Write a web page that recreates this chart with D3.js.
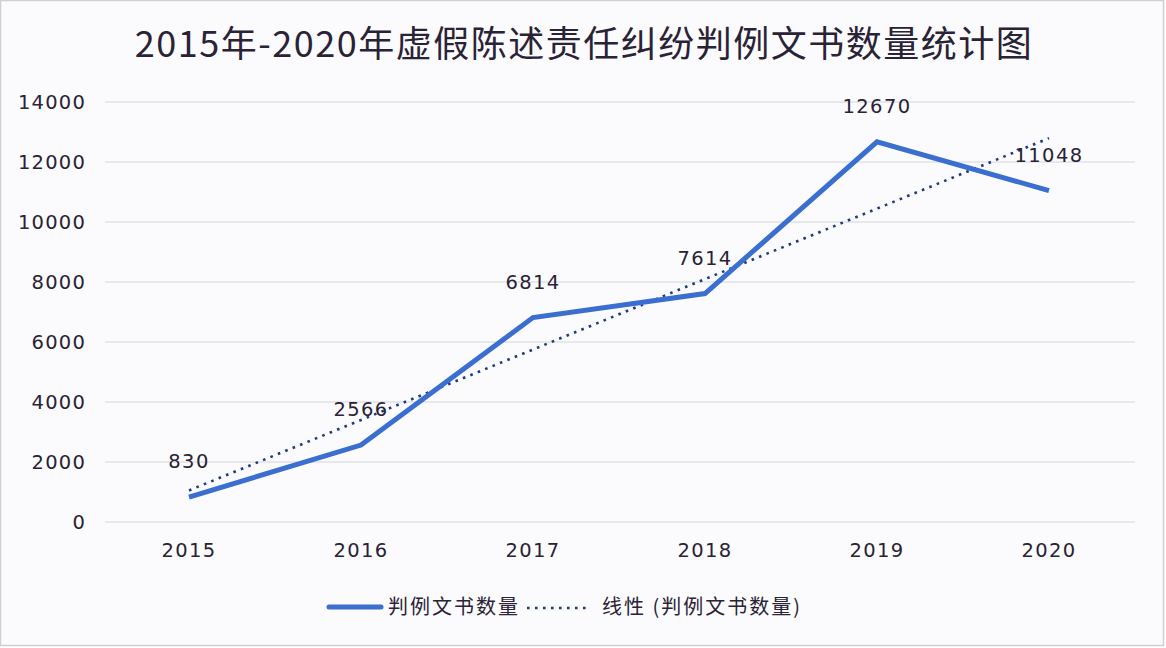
<!DOCTYPE html>
<html><head><meta charset="utf-8">
<script src="https://cdn.jsdelivr.net/npm/d3@7"></script>
<style>
html,body{margin:0;padding:0;background:#fff;}
svg{display:block;}
</style></head>
<body>
<svg id="chart" width="1166" height="648"></svg>
<script>
const years = ["2015","2016","2017","2018","2019","2020"];
const counts = [830, 2566, 6814, 7614, 12670, 11048];
const trendValues = [1052, 12795]; // linear trendline at first and last year
const yTicks = [0, 2000, 4000, 6000, 8000, 10000, 12000, 14000];
const titleText = "2015年-2020年虚假陈述责任纠纷判例文书数量统计图";
const seriesName = "判例文书数量";
const trendName = "线性 (判例文书数量)";

const svg = d3.select("#chart");
const W = 1166, H = 648;
const textColor = "#2a2235";
const lineColor = "#3a6fcf";
const trendColor = "#1e3a80";
const latin = "'DejaVu Sans', Verdana, sans-serif";
const cjk = "'Noto Sans CJK SC', 'DejaVu Sans', sans-serif";

svg.append("rect").attr("x",0.5).attr("y",0.5).attr("width",W-3).attr("height",H-3)
  .attr("fill","#fbfbfd").attr("stroke","#cfcfd6").attr("stroke-width",1.5);

const x = d3.scaleBand().domain(years).range([103,1135]);
const y = d3.scaleLinear().domain([0,14000]).range([522,102]);
const cx = d => x(d) + x.bandwidth()/2;

// title
svg.append("text").attr("x",584).attr("y",57).attr("text-anchor","middle")
  .attr("font-family",cjk).attr("font-size",36).attr("letter-spacing",1.5)
  .attr("fill",textColor).text(titleText);

// gridlines
svg.append("g").selectAll("line").data(yTicks).join("line")
  .attr("x1",105).attr("x2",1135).attr("y1",d=>y(d)).attr("y2",d=>y(d))
  .attr("stroke","#d3d5dc").attr("stroke-width",1.2);

// y axis labels
const yAxis = d3.axisLeft(y).tickValues(yTicks).tickSize(0).tickPadding(0).tickFormat(d3.format("d"));
const gy = svg.append("g").attr("transform","translate(86,0)").call(yAxis);
gy.select(".domain").remove();
gy.selectAll("text").attr("font-family",latin).attr("font-size",19.5).attr("letter-spacing",1.2)
  .attr("fill",textColor).attr("dy","0.35em");

// x axis labels
const xAxis = d3.axisBottom(x).tickSize(0).tickPadding(0);
const gx = svg.append("g").attr("transform","translate(0,550)").call(xAxis);
gx.select(".domain").remove();
gx.selectAll("text").attr("font-family",latin).attr("font-size",19.5).attr("letter-spacing",1.4)
  .attr("fill",textColor).attr("dy","0.35em");

// trendline
const trendPts = [[years[0], trendValues[0]], [years[years.length-1], trendValues[1]]];
svg.append("path").datum(trendPts)
  .attr("d", d3.line().x(d=>cx(d[0])).y(d=>y(d[1])))
  .attr("fill","none").attr("stroke",trendColor).attr("stroke-width",2.6)
  .attr("stroke-dasharray","2.6,5.4");

// main line
const pts = years.map((yr,i)=>({yr, v:counts[i]}));
svg.append("path").datum(pts)
  .attr("d", d3.line().x(d=>cx(d.yr)).y(d=>y(d.v)))
  .attr("fill","none").attr("stroke",lineColor).attr("stroke-width",5)
  .attr("stroke-linejoin","miter");

// data labels
svg.append("g").selectAll("text").data(pts).join("text")
  .attr("x",d=>cx(d.yr)).attr("y",d=>y(d.v)-29).attr("text-anchor","middle")
  .attr("font-family",latin).attr("font-size",19.5).attr("letter-spacing",1.4)
  .attr("fill",textColor).text(d=>d.v);

// legend
const lg = svg.append("g");
lg.append("line").attr("x1",329).attr("x2",381).attr("y1",607).attr("y2",607)
  .attr("stroke",lineColor).attr("stroke-width",5).attr("stroke-linecap","round");
lg.append("text").attr("x",388).attr("y",614).attr("font-family",cjk).attr("font-size",20)
  .attr("letter-spacing",2).attr("fill",textColor).text(seriesName);
lg.append("line").attr("x1",527).attr("x2",589).attr("y1",608).attr("y2",608)
  .attr("stroke",trendColor).attr("stroke-width",2.6).attr("stroke-dasharray","2.6,5.4");
lg.append("text").attr("x",602).attr("y",614).attr("font-family",cjk).attr("font-size",20)
  .attr("letter-spacing",2).attr("fill",textColor).text(trendName);
</script>
</body></html>
